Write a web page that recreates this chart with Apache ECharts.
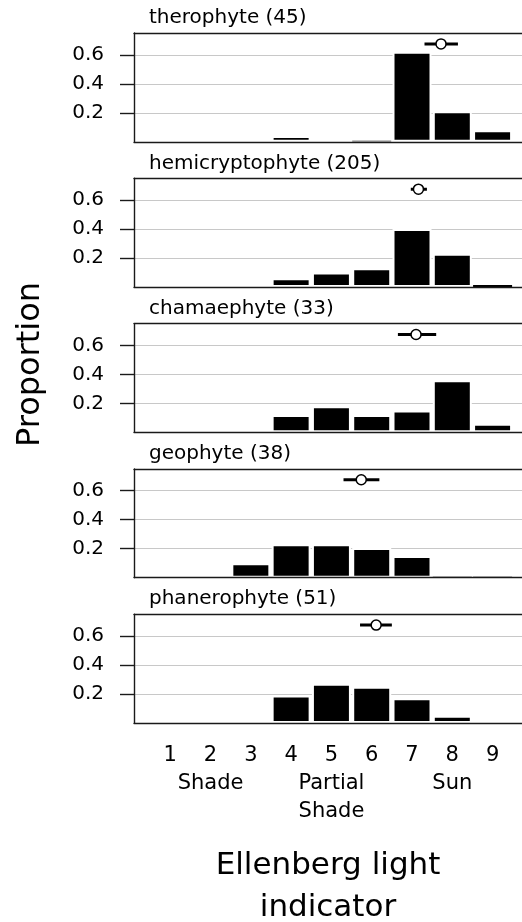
<!DOCTYPE html>
<html>
<head>
<meta charset="utf-8">
<script src="https://cdn.jsdelivr.net/npm/echarts@6/dist/echarts.min.js"></script>
<style>
html,body{margin:0;padding:0;background:#fff;}
#chart{width:522px;height:922px;}
</style>
</head>
<body>
<div id="chart"></div>
<script>
// ---- data ----
const categories = [1, 2, 3, 4, 5, 6, 7, 8, 9];
const panelNames = ['therophyte (45)', 'hemicryptophyte (205)', 'chamaephyte (33)', 'geophyte (38)', 'phanerophyte (51)'];
const therophyte      = [0, 0, 0,    0.04, 0,    0.008, 0.62, 0.21, 0.08];
const hemicryptophyte = [0, 0, 0,    0.06, 0.10, 0.13,  0.40, 0.23, 0.015];
const chamaephyte     = [0, 0, 0,    0.12, 0.18, 0.12,  0.15, 0.36, 0.06];
const geophyte        = [0, 0, 0.10, 0.23, 0.23, 0.205, 0.15, 0.008, 0.008];
const phanerophyte    = [0, 0, 0,    0.19, 0.27, 0.25,  0.17, 0.05, 0];
const meanValues = [7.72, 7.16, 7.10, 5.74, 6.11];
const ciLow      = [7.31, 6.97, 6.65, 5.30, 5.71];
const ciHigh     = [8.14, 7.37, 7.60, 6.19, 6.50];
const meanLevel = 0.675;
const yTickValues = [0.2, 0.4, 0.6];
const groupLabels = {2: 'Shade', 5: 'Partial\nShade', 8: 'Sun'};
const xTitle = 'Ellenberg light\nindicator';
const yTitle = 'Proportion';

const panels = [therophyte, hemicryptophyte, chamaephyte, geophyte, phanerophyte];

// ---- layout ----
const FONT = 'DejaVu Sans';
const panelTop0 = 33, panelStep = 145.3, panelH = 108.75;
const gridLeft = 134, gridRight = 0;
const xMin = 0.1, xMax = 9.73;
const boxColor = '#1a1a1a';

const grids = [], xAxes = [], topAxes = [], yAxes = [], series = [], titles = [];
panels.forEach((vals, i) => {
  const top = panelTop0 + i * panelStep;
  const last = i === panels.length - 1;
  grids.push({left: gridLeft, right: gridRight, top: top, height: panelH, show: false,
    containLabel: false, outerBoundsMode: 'none'});
  titles.push({text: panelNames[i], left: 149, top: top - 25, padding: 0,
    textStyle: {fontFamily: FONT, fontSize: 20, fontWeight: 'normal', color: '#000', lineHeight: 20}});
  xAxes.push({
    type: 'value', gridIndex: i, min: xMin, max: xMax, z: 5, position: 'bottom',
    axisLine: {show: true, onZero: false, lineStyle: {color: boxColor, width: 1.4}},
    axisTick: {show: false},
    splitLine: {show: false},
    axisLabel: last ? {
      show: true, customValues: categories, margin: 19,
      fontFamily: FONT, fontSize: 21, lineHeight: 28, color: '#000',
      formatter: v => groupLabels[v] ? v + '\n' + groupLabels[v] : String(v)
    } : {show: false},
    name: last ? xTitle : '',
    nameLocation: 'middle', nameGap: 122,
    nameTextStyle: {fontFamily: FONT, fontSize: 31, lineHeight: 42, color: '#000'}
  });
  topAxes.push({
    type: 'value', gridIndex: i, min: xMin, max: xMax, z: 5, position: 'top',
    axisLine: {show: true, onZero: false, lineStyle: {color: boxColor, width: 1.4}},
    axisTick: {show: false}, splitLine: {show: false}, axisLabel: {show: false}
  });
  yAxes.push({
    type: 'value', gridIndex: i, min: 0, max: 0.75, interval: 0.2,
    axisLine: {show: true, lineStyle: {color: boxColor, width: 1.4}},
    axisTick: {show: true, customValues: yTickValues, length: 14, lineStyle: {color: boxColor, width: 1.4}},
    axisLabel: {show: true, customValues: yTickValues, margin: 30,
      fontFamily: FONT, fontSize: 20, color: '#000', formatter: v => v.toFixed(1)},
    splitLine: {show: true, lineStyle: {color: '#c8c8c8', width: 1.2}}
  });
  const barData = [];
  vals.forEach((v, k) => {
    if (v <= 0) return;
    const tiny = v < 0.03;
    barData.push({value: [categories[k], v],
      itemStyle: tiny ? {color: v < 0.01 ? '#8a8a8a' : '#000', borderWidth: 0} : {color: '#000', borderColor: '#fff', borderWidth: 2}});
  });
  series.push({type: 'bar', xAxisIndex: i, yAxisIndex: i, barWidth: 39, data: barData, z: 2, silent: true});
  series.push({type: 'line', xAxisIndex: i, yAxisIndex: i, data: [[ciLow[i], meanLevel], [ciHigh[i], meanLevel]],
    showSymbol: false, lineStyle: {color: '#000', width: 3}, z: 6, silent: true});
  series.push({type: 'scatter', xAxisIndex: i, yAxisIndex: i, data: [[meanValues[i], meanLevel]],
    symbol: 'circle', symbolSize: 10, itemStyle: {color: '#fff', borderColor: '#000', borderWidth: 1.5, opacity: 1}, z: 7, silent: true});
});

const chart = echarts.init(document.getElementById('chart'), null, {renderer: 'canvas'});
chart.setOption({
  animation: false,
  backgroundColor: '#fff',
  title: titles,
  grid: grids,
  xAxis: xAxes.concat(topAxes),
  yAxis: yAxes,
  series: series,
  graphic: [{
    type: 'text', x: 31, y: 364.5, rotation: Math.PI / 2,
    style: {text: yTitle, fontFamily: FONT, fontSize: 32, fill: '#000', align: 'center', verticalAlign: 'middle'}
  }]
});
</script>
</body>
</html>
